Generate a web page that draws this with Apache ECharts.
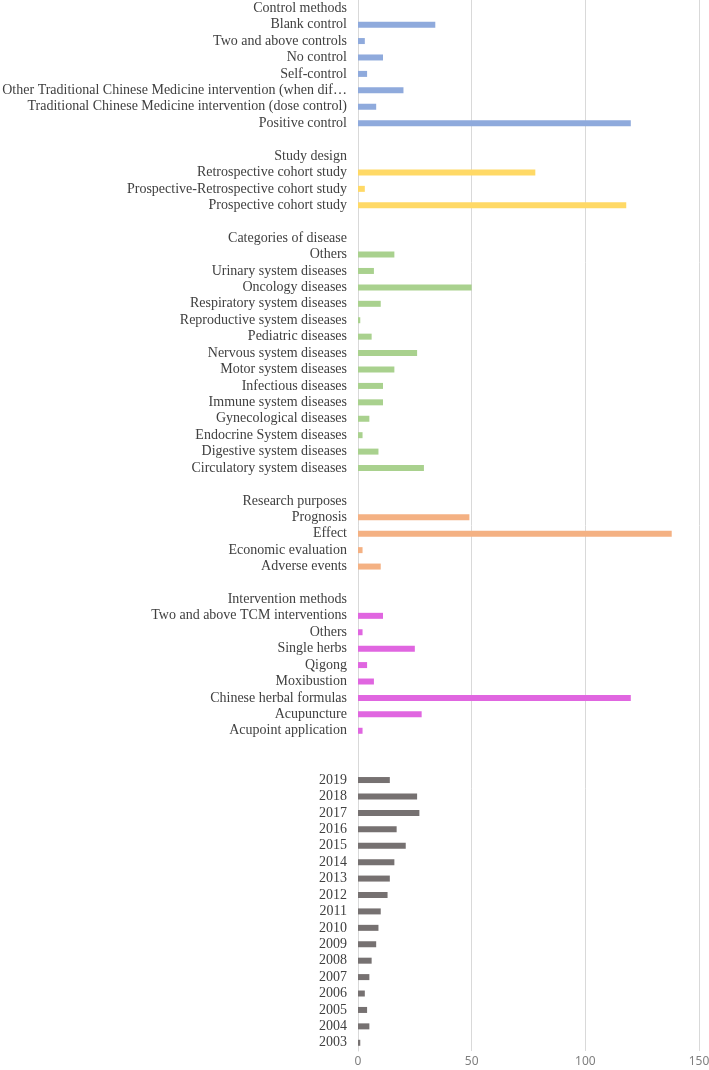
<!DOCTYPE html>
<html>
<head>
<meta charset="utf-8">
<script src="https://cdn.jsdelivr.net/npm/echarts@6/dist/echarts.min.js"></script>
<style>html,body{margin:0;padding:0;background:#fff}#c{width:709px;height:1070px}</style>
</head>
<body>
<div id="c"></div>
<script>
// Groups, top to bottom (headers have no bar)
const controlLabels = ["Blank control","Two and above controls","No control","Self-control","Other Traditional Chinese Medicine intervention (when different interventions)","Traditional Chinese Medicine intervention (dose control)","Positive control"];
const controlValues = [34,3,11,4,20,8,120];
const designLabels = ["Retrospective cohort study","Prospective-Retrospective cohort study","Prospective cohort study"];
const designValues = [78,3,118];
const diseaseLabels = ["Others","Urinary system diseases","Oncology diseases","Respiratory system diseases","Reproductive system diseases","Pediatric diseases","Nervous system diseases","Motor system diseases","Infectious diseases","Immune system diseases","Gynecological diseases","Endocrine System diseases","Digestive system diseases","Circulatory system diseases"];
const diseaseValues = [16,7,50,10,1,6,26,16,11,11,5,2,9,29];
const purposeLabels = ["Prognosis","Effect","Economic evaluation","Adverse events"];
const purposeValues = [49,138,2,10];
const interventionLabels = ["Two and above TCM interventions","Others","Single herbs","Qigong","Moxibustion","Chinese herbal formulas","Acupuncture","Acupoint application"];
const interventionValues = [11,2,25,4,7,120,28,2];
const yearLabels = ["2019","2018","2017","2016","2015","2014","2013","2012","2011","2010","2009","2008","2007","2006","2005","2004","2003"];
const yearValues = [14,26,27,17,21,16,14,13,10,9,8,6,5,3,4,5,1];
const xTicks = [0,50,100,150];

const groups = [
  {header:"Control methods", labels:controlLabels, values:controlValues, color:"#8FAADC", after:1},
  {header:"Study design", labels:designLabels, values:designValues, color:"#FFD966", after:1},
  {header:"Categories of disease", labels:diseaseLabels, values:diseaseValues, color:"#A9D18E", after:1},
  {header:"Research purposes", labels:purposeLabels, values:purposeValues, color:"#F4B183", after:1},
  {header:"Intervention methods", labels:interventionLabels, values:interventionValues, color:"#E066E0", after:2},
  {header:null, labels:yearLabels, values:yearValues, color:"#767171", after:0}
];

const cats = [], data = [];
let blank = 0;
groups.forEach(g => {
  if (g.header) { cats.push(g.header); data.push(null); }
  g.labels.forEach((l,i) => { cats.push(l); data.push({value:g.values[i], itemStyle:{color:g.color}}); });
  for (let k=0;k<g.after;k++){ blank++; cats.push(" ".repeat(blank)); data.push(null); }
});

const chart = echarts.init(document.getElementById('c'), null, {renderer:'canvas'});
chart.setOption({
  animation:false,
  grid:{left:358, right:10, top:0, bottom:19, containLabel:false, outerBoundsMode:'none'},
  xAxis:{type:'value', min:xTicks[0], max:xTicks[xTicks.length-1], interval:50,
    axisLine:{show:false}, axisTick:{show:false},
    splitLine:{lineStyle:{color:'#D9D9D9', width:1}},
    axisLabel:{color:'#7F7F7F', fontFamily:'Noto Sans', fontSize:12, margin:5}},
  yAxis:{type:'category', data:cats, inverse:true,
    axisLine:{show:true, lineStyle:{color:'#D9D9D9'}}, axisTick:{show:false},
    axisLabel:{color:'#404040', fontFamily:'Liberation Serif', fontSize:14, margin:11,
      width:347, overflow:'truncate', ellipsis:'…', interval:0}},
  series:[{type:'bar', data:data, barWidth:6, itemStyle:{}}]
});
</script>
</body>
</html>
